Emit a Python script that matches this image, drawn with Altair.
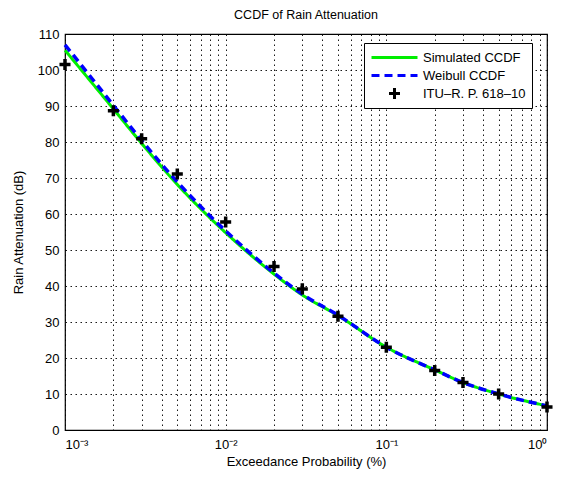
import altair as alt
import pandas as pd

# ---- data ----
prob = [0.001, 0.002, 0.003, 0.005, 0.01, 0.02, 0.03, 0.05, 0.1, 0.2, 0.3, 0.5, 1.0]
simulated = [105.5, 89.2, 79.6, 68.2, 54.8, 43.3, 37.5, 31.8, 23.0, 16.7, 13.2, 10.0, 6.7]
weibull = [107.0, 90.2, 80.4, 68.9, 55.3, 43.6, 37.7, 31.9, 23.0, 16.7, 13.2, 10.0, 6.7]
itu = [101.5, 88.7, 80.9, 71.1, 57.8, 45.4, 39.2, 31.6, 23.0, 16.5, 13.2, 10.0, 6.4]

series_names = ["Simulated CCDF", "Weibull CCDF", "ITU\u2013R. P. 618\u201310"]
series_colors = ["#00ee00", "#0000ff", "#000000"]

x_grid = [m * 10.0 ** e for e in (-3, -2, -1) for m in range(1, 10)] + [1.0]
x_tick_labels = ["10\u207b\u00b3", "10\u207b\u00b2", "10\u207b\u00b9", "10\u2070"]
y_ticks = list(range(0, 111, 10))

sim_df = pd.DataFrame({"p": prob, "a": simulated, "series": series_names[0]})
wei_df = pd.DataFrame({"p": prob, "a": weibull, "series": series_names[1]})
itu_df = pd.DataFrame({"p": prob, "a": itu, "series": series_names[2]})

FONT = "Liberation Sans"
SYM = 2116  # legend/marker symbol area (sqrt = 46 px line length)
line_path = "M-1,0H1"
cross_path = "M-0.24,0H0.24M0,-0.24V0.24"

lg = "round(log(datum.value)/LN10)"
label_expr = (
    "abs(log(datum.value)/LN10 - " + lg + ") < 0.001 ? "
    "(" + lg + " == -3 ? '" + x_tick_labels[0] + "' : "
    + lg + " == -2 ? '" + x_tick_labels[1] + "' : "
    + lg + " == -1 ? '" + x_tick_labels[2] + "' : '"
    + x_tick_labels[3] + "') : ''"
)

x_enc = alt.X(
    "p:Q",
    scale=alt.Scale(type="log", domain=[0.001, 1], nice=False),
    axis=alt.Axis(
        title="Exceedance Probability (%)",
        values=x_grid,
        labelExpr=label_expr,
        grid=True,
        ticks=False,
        domain=False,
        labelPadding=8,
        titlePadding=4,
    ),
)
y_enc = alt.Y(
    "a:Q",
    scale=alt.Scale(domain=[0, 110], nice=False),
    axis=alt.Axis(
        title="Rain Attenuation (dB)",
        values=y_ticks,
        grid=True,
        ticks=False,
        domain=False,
        labelPadding=6,
        titlePadding=12,
    ),
)

legend = alt.Legend(
    title=None,
    orient="none",
    legendX=299,
    legendY=9,
    fillColor="white",
    strokeColor="black",
    padding=6,
    labelFont=FONT,
    labelFontSize=13,
    labelColor="black",
    symbolSize=SYM,
    symbolStrokeWidth=3,
    clipHeight=17,
    rowPadding=1,
    labelOffset=4,
)

color = alt.Color("series:N", scale=alt.Scale(domain=series_names, range=series_colors), legend=legend)
dash = alt.StrokeDash("series:N", scale=alt.Scale(domain=series_names, range=[[1, 0], [8, 5], [1, 0]]), legend=legend)
shape = alt.Shape("series:N", scale=alt.Scale(domain=series_names, range=[line_path, line_path, cross_path]), legend=legend)

sim_line = alt.Chart(sim_df).mark_line(strokeWidth=3, interpolate="monotone").encode(
    x=x_enc, y=y_enc, color=color, strokeDash=dash
)
wei_line = alt.Chart(wei_df).mark_line(strokeWidth=3.5, interpolate="monotone").encode(
    x=x_enc, y=y_enc, color=color, strokeDash=dash
)
itu_pts = alt.Chart(itu_df).mark_point(filled=False, size=SYM, strokeWidth=3.5, opacity=1).encode(
    x=x_enc, y=y_enc, color=color, shape=shape
)

chart = (
    alt.layer(sim_line, wei_line, itu_pts)
    .properties(
        width=482,
        height=396,
        background="white",
        title=alt.TitleParams(
            "CCDF of Rain Attenuation",
            font=FONT,
            fontSize=12.5,
            fontWeight="normal",
            color="black",
            offset=7,
            anchor="middle",
        ),
        autosize=alt.AutoSizeParams(type="none"),
        padding={"left": 57, "top": 26, "right": 9, "bottom": 46},
    )
    .configure_view(stroke="black", strokeWidth=1.2)
    .configure_axis(
        labelFont=FONT,
        labelFontSize=13,
        labelColor="black",
        titleFont=FONT,
        titleFontSize=13,
        titleFontWeight="normal",
        titleColor="black",
        gridColor="black",
        gridDash=[1.5, 3.5],
        gridOpacity=0.9,
        gridWidth=1,
    )
)

chart.save("out.html", embed_options={"renderer": "svg", "actions": False})
